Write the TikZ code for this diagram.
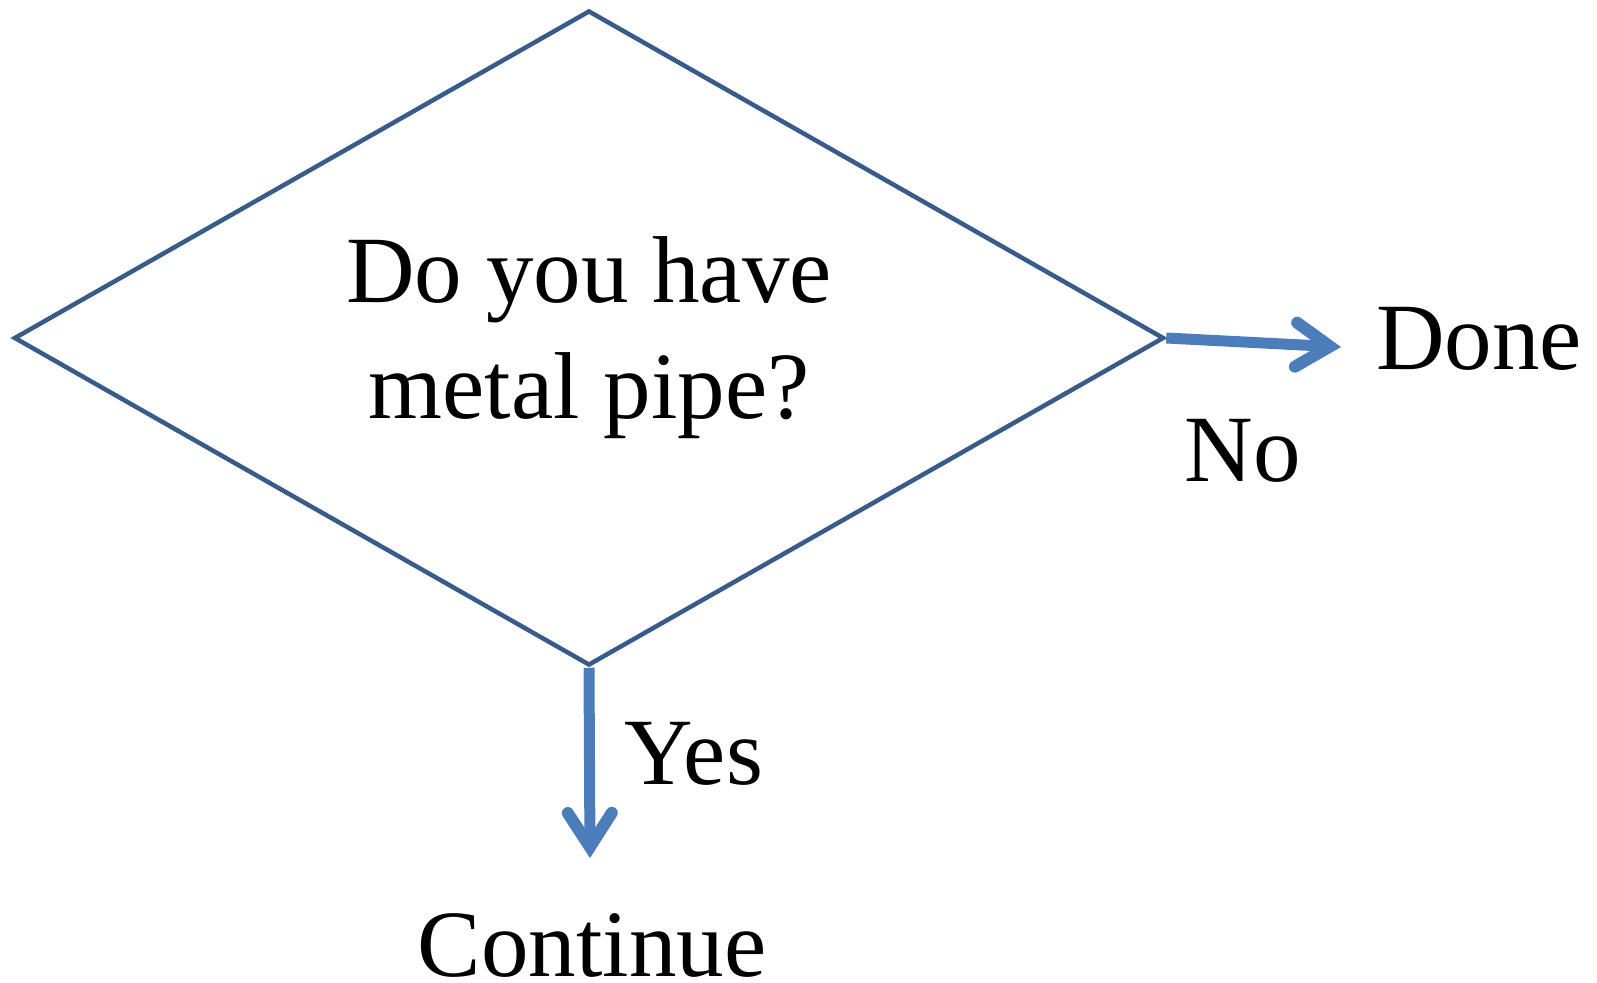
\documentclass[tikz,border=0pt]{standalone}
\usepackage{fontspec}
\setmainfont{Liberation Serif}
\usetikzlibrary{arrows.meta,shapes.geometric}
\definecolor{DiamondClr}{rgb}{0.22,0.36,0.54}
\definecolor{ArrowClr}{rgb}{0.29,0.49,0.73}

\tikzset{
  decision/.style={diamond,draw=DiamondClr,line width=4.5pt,inner sep=0pt,
    minimum width=1150pt,minimum height=655pt,shape aspect=1.76,align=center},
  flow/.style={draw=ArrowClr,line width=11pt,
    -{Straight Barb[length=34pt,width=44pt,line width=12pt,line cap=round]}},
  lbl/.style={inner sep=0pt,anchor=base},
  big/.style={font=\fontsize{95}{116}\selectfont}
}

\begin{document}
\begin{tikzpicture}[x=1pt,y=-1pt]
\useasboundingbox (0,0) rectangle (1597,982);

\node[decision,big] (Q) at (589,338) {Do you have\\metal pipe?};

\node[lbl,big] (Done) at (1479,369) {Done};
\node[lbl,big] (No) at (1243,481) {No};
\node[lbl,big] (Yes) at (694,784) {Yes};
\node[lbl,big] (Cont) at (592,976) {Continue};

\coordinate (NoTip) at (1341,347);
\coordinate (YesTip) at (590,858);

\draw[flow] (Q.east) -- (NoTip);
\draw[flow] (Q.south) -- (YesTip);

\end{tikzpicture}
\end{document}
